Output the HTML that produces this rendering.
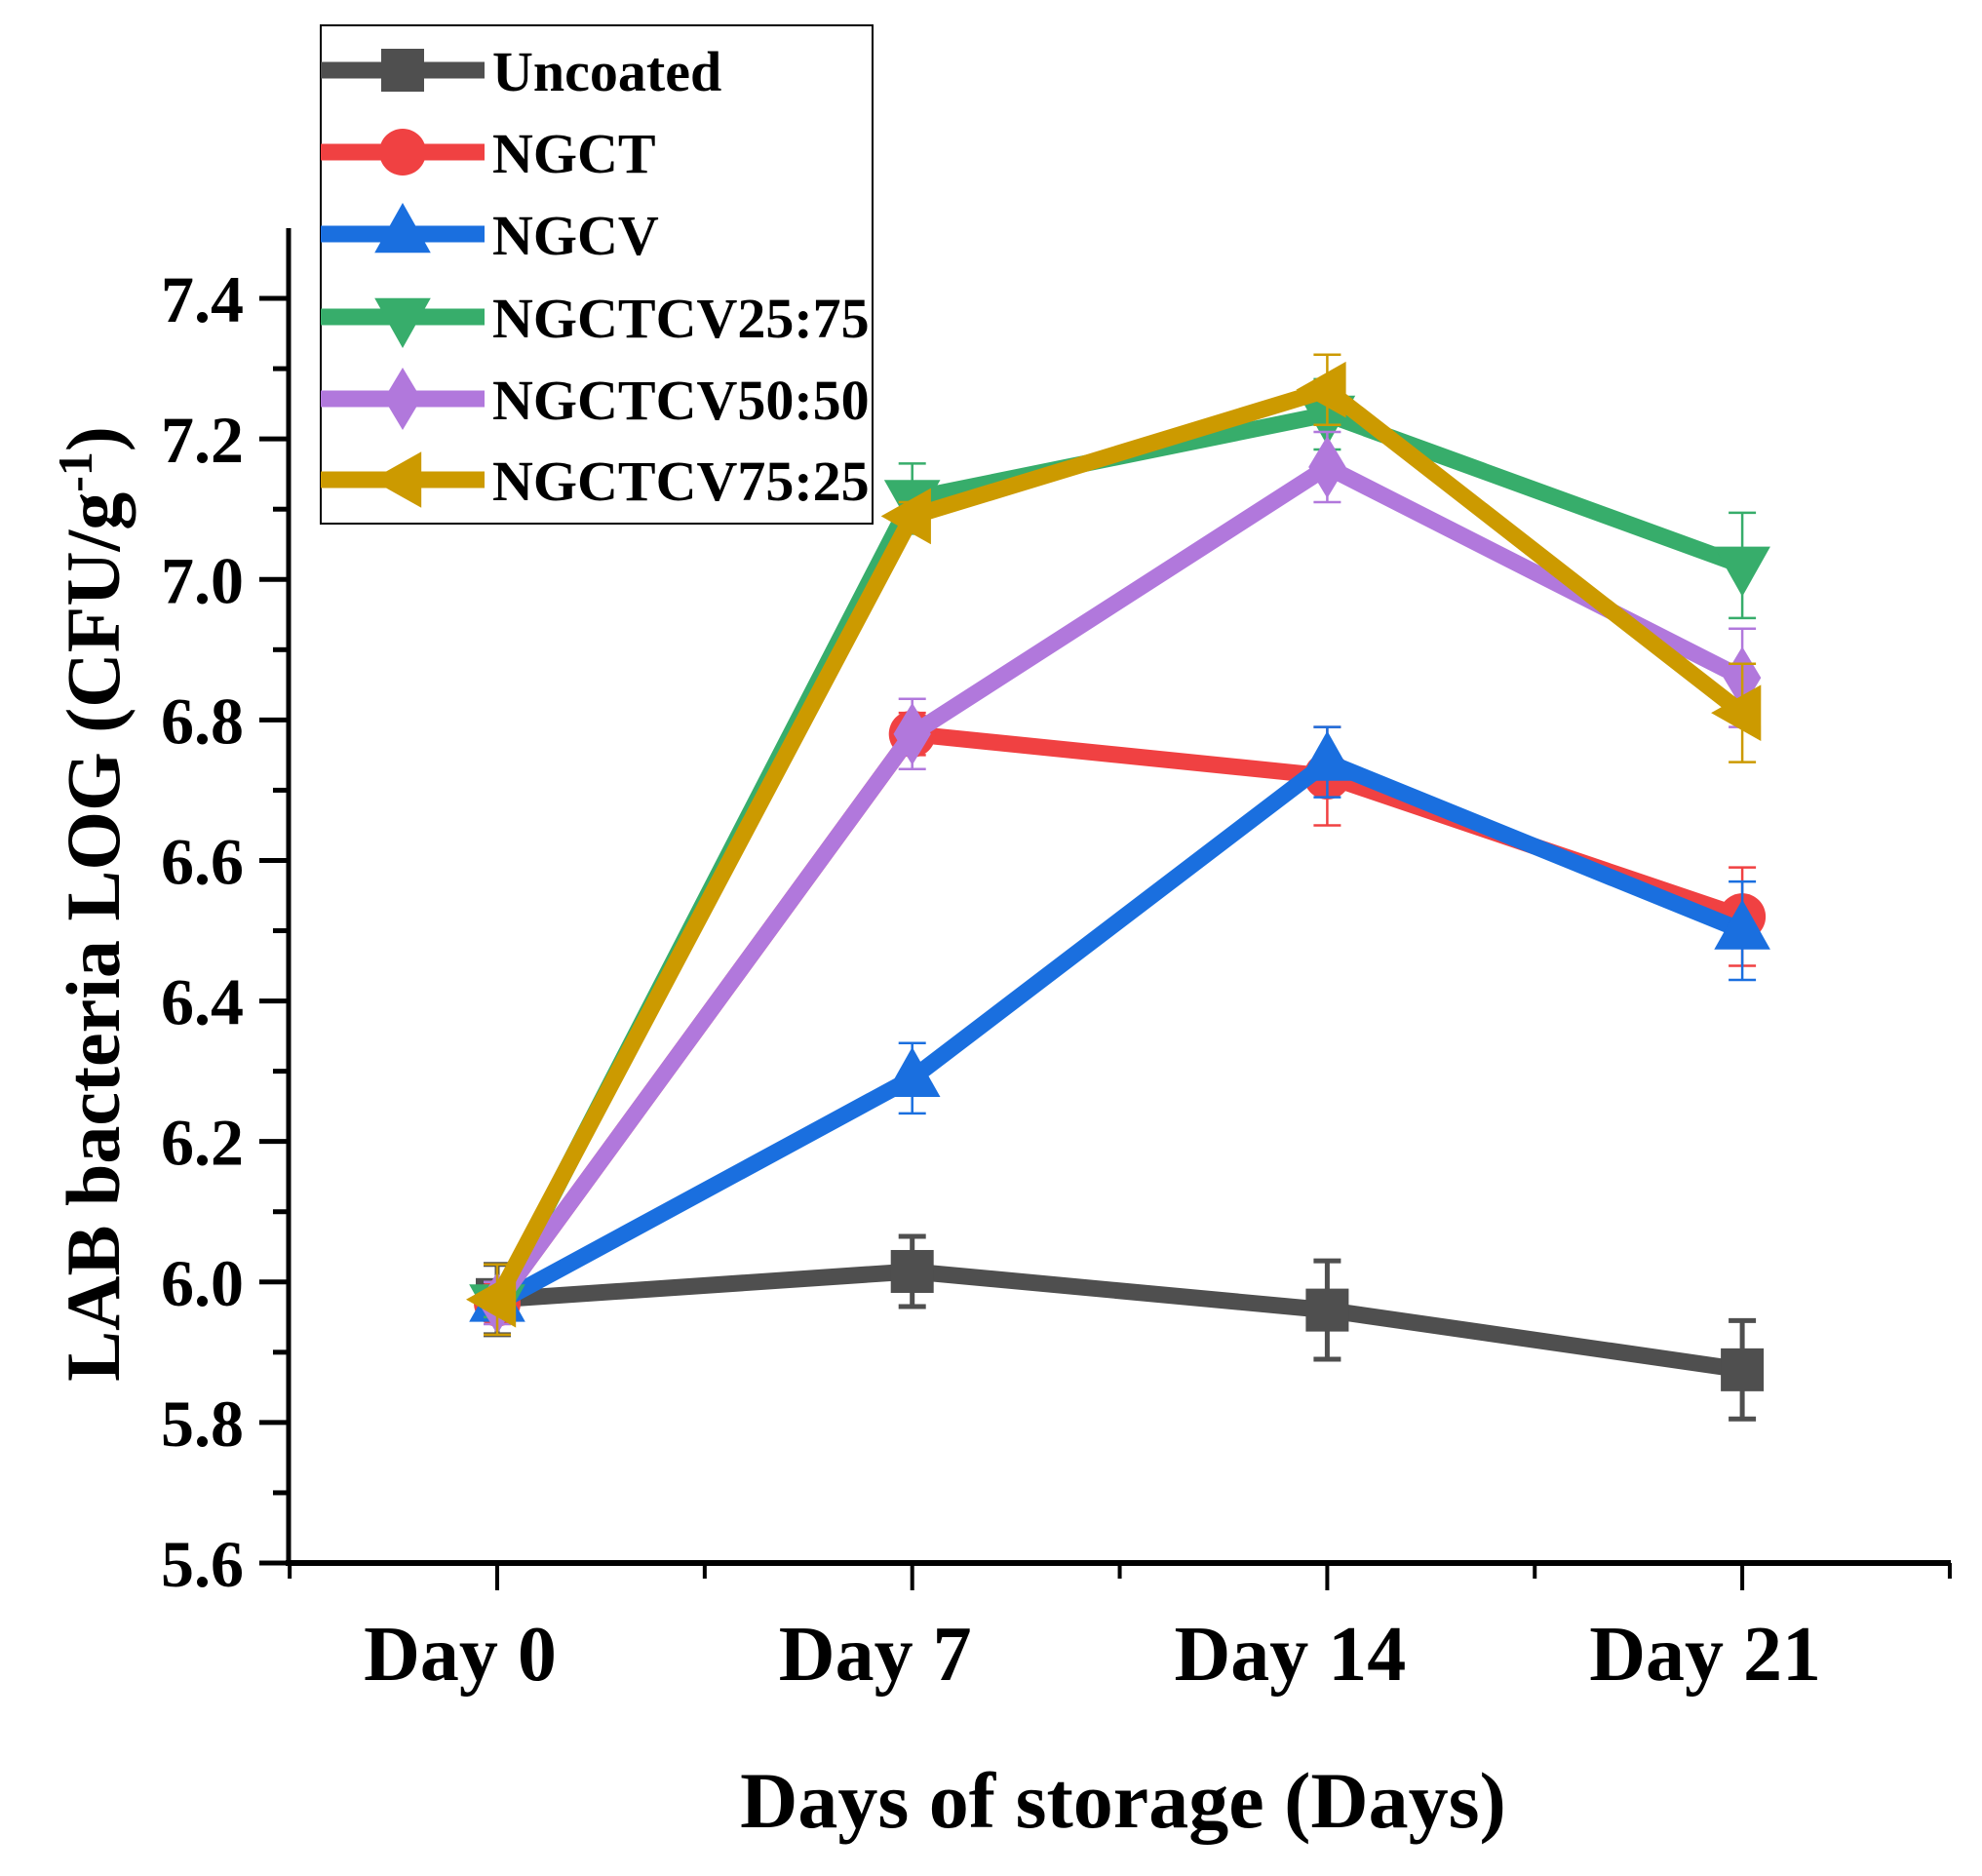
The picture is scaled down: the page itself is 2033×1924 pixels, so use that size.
<!DOCTYPE html>
<html><head><meta charset="utf-8"><style>
html,body{margin:0;padding:0;background:#fff;}
svg text{font-family:"Liberation Serif",serif;font-weight:bold;fill:#000;}
</style></head><body>
<svg id="chart" width="2033" height="1919" viewBox="0 0 2033 1919" xmlns="http://www.w3.org/2000/svg">
<g id="axes"></g>
<g id="plot"></g>
<g id="legend"></g>
<text x="1152" y="1874" font-size="82" text-anchor="middle">Days of storage (Days)</text>
<text transform="translate(122,927) rotate(-90)" font-size="78" text-anchor="middle">LAB bacteria LOG (CFU/g<tspan font-size="50" dy="-28">-1</tspan><tspan dy="28">)</tspan></text>
</svg>
<script>
const categories = ["Day 0", "Day 7", "Day 14", "Day 21"];
const seriesNames = ["Uncoated", "NGCT", "NGCV", "NGCTCV25:75", "NGCTCV50:50", "NGCTCV75:25"];
const uncoated = [5.975, 6.015, 5.96, 5.875];
const ngct = [5.97, 6.78, 6.72, 6.52];
const ngcv = [5.97, 6.29, 6.74, 6.50];
const ngctcv2575 = [5.97, 7.115, 7.235, 7.02];
const ngctcv5050 = [5.97, 6.78, 7.16, 6.86];
const ngctcv7525 = [5.975, 7.09, 7.27, 6.81];
const errUncoated = [0.05, 0.05, 0.07, 0.07];
const errNgct = [0.02, 0.03, 0.07, 0.07];
const errNgcv = [0.02, 0.05, 0.05, 0.07];
const err2575 = [0.02, 0.05, 0.05, 0.075];
const err5050 = [0.03, 0.05, 0.05, 0.07];
const err7525 = [0.05, 0.02, 0.05, 0.07];
const yTicks = ["5.6", "5.8", "6.0", "6.2", "6.4", "6.6", "6.8", "7.0", "7.2", "7.4"];

const NS = "http://www.w3.org/2000/svg";
const X0 = 296, X1 = 2001, YT = 234, YB = 1603;
const yMin = 5.6, yMax = 7.5;
function ys(v){ return YB - (v - yMin) / (yMax - yMin) * (YB - YT); }
function xs(i){ return 510 + i * 425.7; }
function mk(tag, attrs, parent){
  const e = document.createElementNS(NS, tag);
  for (const k in attrs) e.setAttribute(k, attrs[k]);
  parent.appendChild(e); return e;
}
const axes = document.getElementById('axes');
const plot = document.getElementById('plot');
const legend = document.getElementById('legend');

let l = mk('line', {x1:X0, y1:YT, x2:X0, y2:YB+3, stroke:'#000', 'stroke-width':5}, axes);


l = mk('line', {x1:X0-3, y1:YB, x2:X1, y2:YB, stroke:'#000', 'stroke-width':6}, axes);


yTicks.forEach(function(t){
  const v = parseFloat(t), y = ys(v);
  const tk = mk('line', {x1:X0-30, y1:y, x2:X0, y2:y, stroke:'#000', 'stroke-width':5}, axes);
  
  
  const tx = mk('text', {x:X0-46, y:y+24, 'font-size':68, 'text-anchor':'end'}, axes);
  tx.textContent = t;
  
  
  const mv = v + 0.1;
  if (mv < yMax) {
    const m = mk('line', {x1:X0-16, y1:ys(mv), x2:X0, y2:ys(mv), stroke:'#000', 'stroke-width':5}, axes);
    
    
  }
});
categories.forEach(function(c, i){
  const x = xs(i);
  const tk = mk('line', {x1:x, y1:YB, x2:x, y2:YB+28, stroke:'#000', 'stroke-width':4}, axes);
  
  
  const tx = mk('text', {x:x-38, y:1723, 'font-size':80, 'text-anchor':'middle'}, axes);
  tx.textContent = c;
  
  
});
for (let i = -0.5; i <= 3.6; i += 1) {
  const m = mk('line', {x1:xs(i), y1:YB, x2:xs(i), y2:YB+16, stroke:'#000', 'stroke-width':4}, axes);
  
  
}

const colors = ['#4f4f4f', '#f04142', '#1a6fdf', '#37ad6b', '#b178dc', '#cc9a00'];
const shapes = ['square', 'circle', 'up', 'down', 'diamond', 'left'];
const data = [uncoated, ngct, ngcv, ngctcv2575, ngctcv5050, ngctcv7525];
const errs = [errUncoated, errNgct, errNgcv, err2575, err5050, err7525];

function marker(shape, x, y, s, color, parent){
  let e;
  if (shape === 'square') e = mk('rect', {x:x-s*0.55, y:y-s*0.55, width:s*1.1, height:s*1.1, fill:color}, parent);
  else if (shape === 'circle') e = mk('circle', {cx:x, cy:y, r:s*0.6, fill:color}, parent);
  else {
    let p;
    const r = s * 0.8;
    if (shape === 'up') p = [[x, y-r], [x+r*0.9, y+r*0.6], [x-r*0.9, y+r*0.6]];
    if (shape === 'down') p = [[x, y+r], [x+r*0.9, y-r*0.6], [x-r*0.9, y-r*0.6]];
    if (shape === 'diamond') p = [[x, y-r], [x+r*0.6, y], [x, y+r], [x-r*0.6, y]];
    if (shape === 'left') p = [[x-r, y], [x+r*0.6, y-r*0.9], [x+r*0.6, y+r*0.9]];
    e = mk('polygon', {points:p.map(q => q.join(',')).join(' '), fill:color}, parent);
  }
  return e;
}

data.forEach(function(vals, si){
  const g = mk('g', {}, plot);
  
  
  const color = colors[si];
  vals.forEach(function(v, i){
    const x = xs(i), e = errs[si][i];
    const eb = mk('path', {d:'M'+x+','+ys(v+e)+'V'+ys(v-e)+'M'+(x-14)+','+ys(v+e)+'H'+(x+14)+'M'+(x-14)+','+ys(v-e)+'H'+(x+14), stroke:color, 'stroke-width': si===0?5:2.5, fill:'none'}, g);
    
    
  });
  const pts = vals.map((v, i) => xs(i) + ',' + ys(v)).join(' ');
  const pl = mk('polyline', {points:pts, fill:'none', stroke:color, 'stroke-width':17, 'stroke-linejoin':'miter'}, g);
  
  
  vals.forEach(function(v, i){
    const m = marker(shapes[si], xs(i), ys(v), 40, color, g);
    
    
  });
});

const box = mk('rect', {x:329, y:26, width:566, height:511, fill:'#fff', stroke:'#000', 'stroke-width':2}, legend);


const legY = [72, 156, 240, 325, 409, 492];
seriesNames.forEach(function(n, si){
  const g = mk('g', {}, legend);
  
  
  const y = legY[si];
  mk('line', {x1:329, y1:y, x2:497, y2:y, stroke:colors[si], 'stroke-width':17}, g);
  marker(shapes[si], 413, y, 40, colors[si], g);
  const t = mk('text', {x:505, y:y+21, 'font-size':58}, g);
  t.textContent = n;
});
</script>
</body></html>
